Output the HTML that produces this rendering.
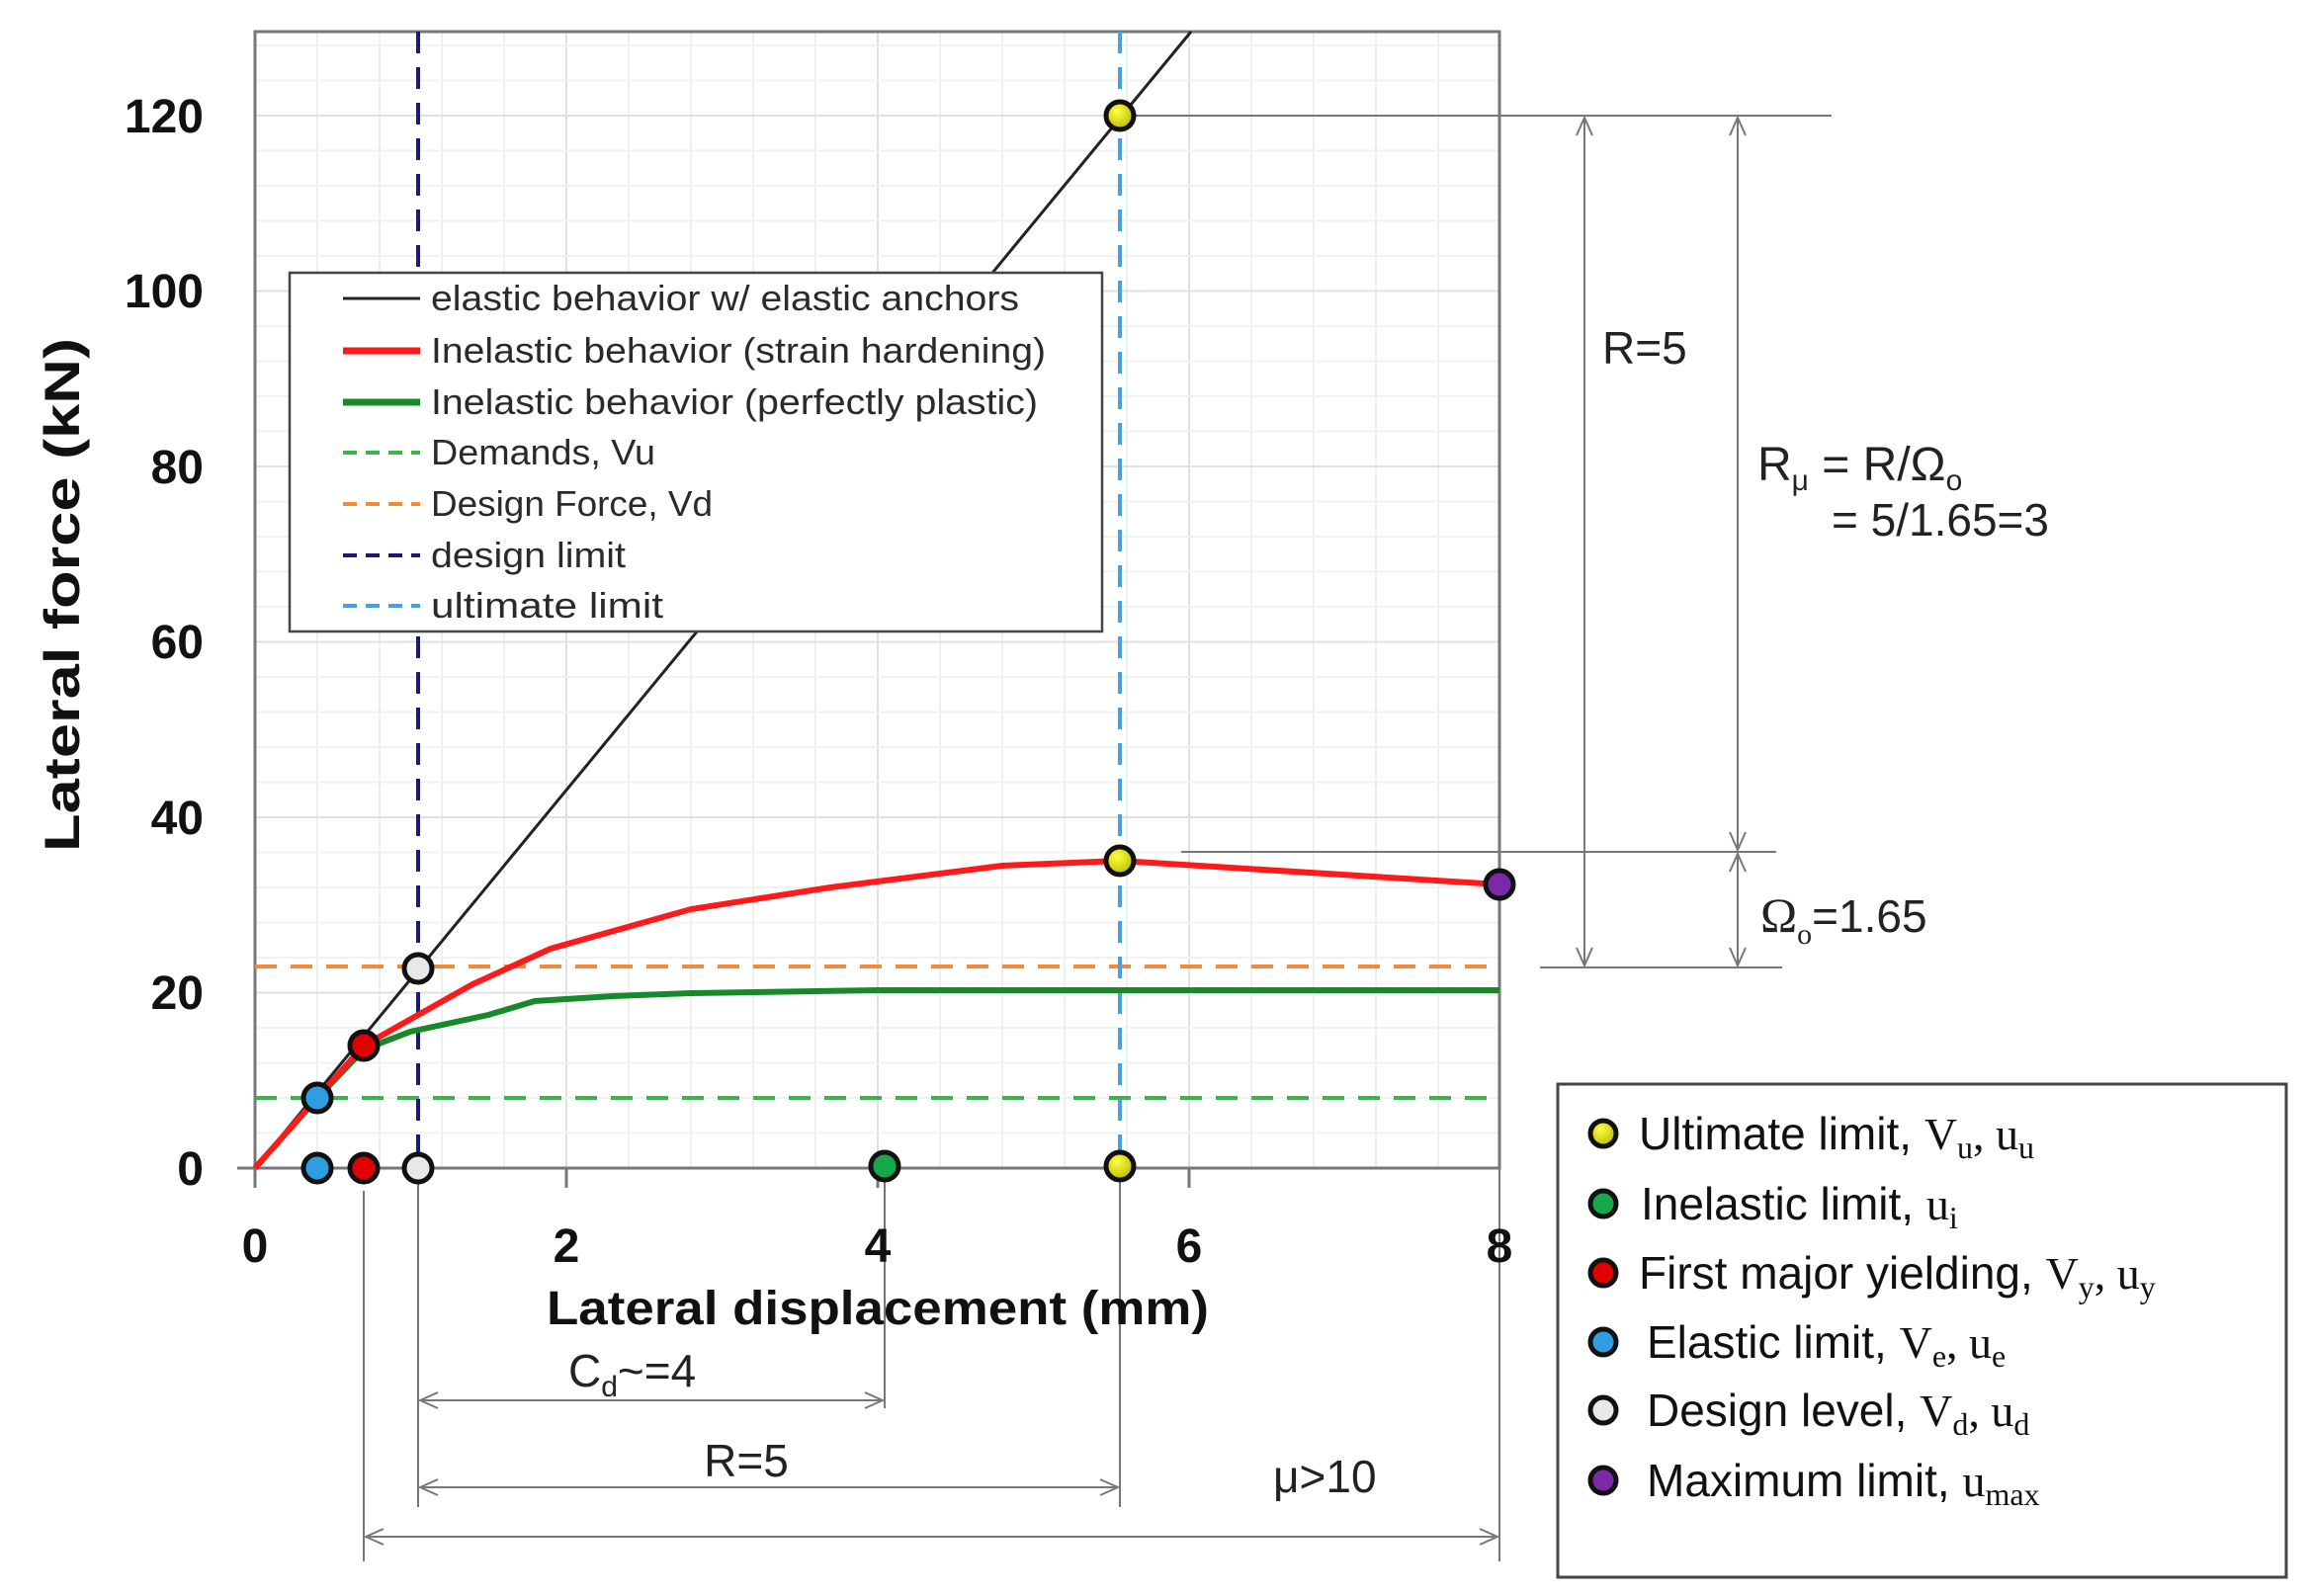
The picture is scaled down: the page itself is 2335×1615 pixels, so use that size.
<!DOCTYPE html>
<html><head><meta charset="utf-8"><style>
html,body{margin:0;padding:0;background:#fff;}
svg{display:block;}
text{font-family:"Liberation Sans",sans-serif;}
</style></head><body>
<svg width="2335" height="1615" viewBox="0 0 2335 1615" xmlns="http://www.w3.org/2000/svg">
<defs>
<marker id="ar" markerWidth="24" markerHeight="24" refX="20" refY="12" orient="auto" markerUnits="userSpaceOnUse">
<path d="M2,4 L20,12 L2,20" fill="none" stroke="#777" stroke-width="2"/></marker>
<marker id="al" markerWidth="24" markerHeight="24" refX="4" refY="12" orient="auto" markerUnits="userSpaceOnUse">
<path d="M22,4 L4,12 L22,20" fill="none" stroke="#777" stroke-width="2"/></marker>
<radialGradient id="gy" cx="40%" cy="35%" r="70%"><stop offset="0" stop-color="#ffff40"/><stop offset="1" stop-color="#b8b800"/></radialGradient>
</defs>
<rect width="2335" height="1615" fill="#fff"/>
<g stroke="#efefef" stroke-width="2">
<line x1="321" y1="32" x2="321" y2="1182"/><line x1="384" y1="32" x2="384" y2="1182"/><line x1="447" y1="32" x2="447" y2="1182"/><line x1="510" y1="32" x2="510" y2="1182"/>
<line x1="636" y1="32" x2="636" y2="1182"/><line x1="699" y1="32" x2="699" y2="1182"/><line x1="762" y1="32" x2="762" y2="1182"/><line x1="825" y1="32" x2="825" y2="1182"/>
<line x1="951" y1="32" x2="951" y2="1182"/><line x1="1014" y1="32" x2="1014" y2="1182"/><line x1="1077" y1="32" x2="1077" y2="1182"/><line x1="1140" y1="32" x2="1140" y2="1182"/>
<line x1="1266" y1="32" x2="1266" y2="1182"/><line x1="1329" y1="32" x2="1329" y2="1182"/><line x1="1392" y1="32" x2="1392" y2="1182"/><line x1="1455" y1="32" x2="1455" y2="1182"/>
</g>
<g stroke="#e0e0e0" stroke-width="2">
<line x1="573" y1="32" x2="573" y2="1182"/><line x1="888" y1="32" x2="888" y2="1182"/><line x1="1203" y1="32" x2="1203" y2="1182"/>
<line x1="258" y1="1004.5" x2="1517" y2="1004.5"/><line x1="258" y1="827" x2="1517" y2="827"/><line x1="258" y1="649.5" x2="1517" y2="649.5"/><line x1="258" y1="472" x2="1517" y2="472"/><line x1="258" y1="294.5" x2="1517" y2="294.5"/><line x1="258" y1="117" x2="1517" y2="117"/>
</g>
<g stroke="#f2f2f2" stroke-width="2">
<line x1="258" y1="1146.5" x2="1517" y2="1146.5"/><line x1="258" y1="1111" x2="1517" y2="1111"/><line x1="258" y1="1075.5" x2="1517" y2="1075.5"/><line x1="258" y1="1040" x2="1517" y2="1040"/>
<line x1="258" y1="969" x2="1517" y2="969"/><line x1="258" y1="933.5" x2="1517" y2="933.5"/><line x1="258" y1="898" x2="1517" y2="898"/><line x1="258" y1="862.5" x2="1517" y2="862.5"/>
<line x1="258" y1="791.5" x2="1517" y2="791.5"/><line x1="258" y1="756" x2="1517" y2="756"/><line x1="258" y1="720.5" x2="1517" y2="720.5"/><line x1="258" y1="685" x2="1517" y2="685"/>
<line x1="258" y1="614" x2="1517" y2="614"/><line x1="258" y1="578.5" x2="1517" y2="578.5"/><line x1="258" y1="543" x2="1517" y2="543"/><line x1="258" y1="507.5" x2="1517" y2="507.5"/>
<line x1="258" y1="436.5" x2="1517" y2="436.5"/><line x1="258" y1="401" x2="1517" y2="401"/><line x1="258" y1="365.5" x2="1517" y2="365.5"/><line x1="258" y1="330" x2="1517" y2="330"/>
<line x1="258" y1="259" x2="1517" y2="259"/><line x1="258" y1="223.5" x2="1517" y2="223.5"/><line x1="258" y1="188" x2="1517" y2="188"/><line x1="258" y1="152.5" x2="1517" y2="152.5"/>
<line x1="258" y1="81.5" x2="1517" y2="81.5"/><line x1="258" y1="46" x2="1517" y2="46"/>
</g>
<rect x="258" y="32" width="1259" height="1150" fill="none" stroke="#777" stroke-width="3"/>
<g stroke="#777" stroke-width="3">
<line x1="240" y1="1182" x2="258" y2="1182"/><line x1="258" y1="1182" x2="258" y2="1202"/><line x1="573" y1="1182" x2="573" y2="1202"/><line x1="888" y1="1182" x2="888" y2="1202"/><line x1="1203" y1="1182" x2="1203" y2="1202"/>
</g>
<line x1="258" y1="1111" x2="1517" y2="1111" stroke="#3cb44b" stroke-width="4" stroke-dasharray="22,14"/>
<line x1="258" y1="978" x2="1517" y2="978" stroke="#f28a3a" stroke-width="4" stroke-dasharray="22,14"/>
<line x1="423" y1="32" x2="423" y2="1182" stroke="#1a1a6e" stroke-width="4" stroke-dasharray="22,14"/>
<line x1="1133" y1="32" x2="1133" y2="1182" stroke="#4aa0dc" stroke-width="4" stroke-dasharray="22,14"/>
<line x1="258" y1="1182" x2="1205" y2="32" stroke="#222" stroke-width="3"/>
<polyline fill="none" stroke="#168a2a" stroke-width="6" points="258,1182 321,1111 368,1062 415,1044 494,1027 541,1013 620,1008 699,1005 888,1002 1517,1002"/>
<polyline fill="none" stroke="#ff1a1a" stroke-width="6" points="258,1182 321,1111 368,1058 423,1027 478,996 557,960 699,920 840,898 1014,876 1133,871 1517,895"/>
<g stroke="#777" stroke-width="2" fill="none">
<line x1="1140" y1="117" x2="1853" y2="117"/>
<line x1="1195" y1="862" x2="1797" y2="862"/>
<line x1="1558" y1="979" x2="1803" y2="979"/>
<line x1="1603" y1="119" x2="1603" y2="977" marker-start="url(#al)" marker-end="url(#ar)"/>
<line x1="1758" y1="119" x2="1758" y2="860" marker-start="url(#al)" marker-end="url(#ar)"/>
<line x1="1758" y1="864" x2="1758" y2="977" marker-start="url(#al)" marker-end="url(#ar)"/>
<line x1="368" y1="1205" x2="368" y2="1580"/>
<line x1="423" y1="1182" x2="423" y2="1525"/>
<line x1="895" y1="1182" x2="895" y2="1425"/>
<line x1="1133" y1="1182" x2="1133" y2="1525"/>
<line x1="1517" y1="1182" x2="1517" y2="1580"/>
<line x1="425" y1="1417" x2="893" y2="1417" marker-start="url(#al)" marker-end="url(#ar)"/>
<line x1="425" y1="1505" x2="1131" y2="1505" marker-start="url(#al)" marker-end="url(#ar)"/>
<line x1="370" y1="1555" x2="1515" y2="1555" marker-start="url(#al)" marker-end="url(#ar)"/>
</g>
<g stroke="#111" stroke-width="5">
<circle cx="321" cy="1111" r="14" fill="#2e9ee0"/>
<circle cx="368" cy="1058" r="14" fill="#e00000"/>
<circle cx="423" cy="980" r="14" fill="#e8e8e8"/>
<circle cx="1133" cy="117" r="14" fill="url(#gy)"/>
<circle cx="1133" cy="871" r="14" fill="url(#gy)"/>
<circle cx="1517" cy="895" r="14" fill="#7a2aa8"/>
<circle cx="321" cy="1182" r="14" fill="#2e9ee0"/>
<circle cx="368" cy="1182" r="14" fill="#e00000"/>
<circle cx="423" cy="1182" r="14" fill="#e8e8e8"/>
<circle cx="895" cy="1180" r="14" fill="#16a84a"/>
<circle cx="1133" cy="1180" r="14" fill="url(#gy)"/>
</g>
<rect x="293" y="276" width="822" height="363" fill="#fff" stroke="#444" stroke-width="2.5"/>
<g stroke-width="4">
<line x1="347" y1="302" x2="425" y2="302" stroke="#222" stroke-width="3"/>
<line x1="347" y1="355" x2="425" y2="355" stroke="#ff1a1a" stroke-width="7"/>
<line x1="347" y1="407" x2="425" y2="407" stroke="#168a2a" stroke-width="7"/>
<line x1="347" y1="458" x2="425" y2="458" stroke="#3cb44b" stroke-dasharray="14,9"/>
<line x1="347" y1="510" x2="425" y2="510" stroke="#f28a3a" stroke-dasharray="14,9"/>
<line x1="347" y1="562" x2="425" y2="562" stroke="#1a1a6e" stroke-dasharray="14,9"/>
<line x1="347" y1="613" x2="425" y2="613" stroke="#4aa0dc" stroke-dasharray="14,9"/>
</g>
<g font-size="36" fill="#2a2a2a">
<text x="436" y="314" textLength="595" lengthAdjust="spacingAndGlyphs">elastic behavior w/ elastic anchors</text>
<text x="436" y="367" textLength="622" lengthAdjust="spacingAndGlyphs">Inelastic behavior (strain hardening)</text>
<text x="436" y="419" textLength="614" lengthAdjust="spacingAndGlyphs">Inelastic behavior (perfectly plastic)</text>
<text x="436" y="470" textLength="227" lengthAdjust="spacingAndGlyphs">Demands, Vu</text>
<text x="436" y="522" textLength="285" lengthAdjust="spacingAndGlyphs">Design Force, Vd</text>
<text x="436" y="574" textLength="197" lengthAdjust="spacingAndGlyphs">design limit</text>
<text x="436" y="625" textLength="235" lengthAdjust="spacingAndGlyphs">ultimate limit</text>
</g>
<g font-size="48" font-weight="bold" fill="#111" text-anchor="end">
<text x="206" y="1199">0</text><text x="206" y="1021">20</text><text x="206" y="844">40</text><text x="206" y="666">60</text><text x="206" y="489">80</text><text x="206" y="311">100</text><text x="206" y="134">120</text>
</g>
<g font-size="48" font-weight="bold" fill="#111" text-anchor="middle">
<text x="258" y="1277">0</text><text x="573" y="1277">2</text><text x="888" y="1277">4</text><text x="1203" y="1277">6</text><text x="1517" y="1277">8</text>
<text x="888" y="1340" textLength="670" lengthAdjust="spacingAndGlyphs">Lateral displacement (mm)</text>
<text transform="translate(80,602) rotate(-90)" font-size="50" textLength="520" lengthAdjust="spacingAndGlyphs">Lateral force (kN)</text>
</g>
<g font-size="46" fill="#222">
<text x="1621" y="368">R=5</text>
<text x="1778" y="486" font-family="Liberation Serif,serif" font-size="48">R<tspan font-size="30" dy="10">μ</tspan><tspan dy="-10"> = R/Ω</tspan><tspan font-size="30" dy="10">o</tspan></text>
<text x="1853" y="542">= 5/1.65=3</text>
<text x="1781" y="943"><tspan font-family="Liberation Serif,serif" font-size="50">Ω</tspan><tspan font-size="30" dy="12" font-family="Liberation Serif,serif">o</tspan><tspan dy="-12">=1.65</tspan></text>
<text x="575" y="1403" font-family="Liberation Serif,serif">C<tspan font-size="30" dy="10">d</tspan><tspan dy="-10" font-family="Liberation Sans,sans-serif">~=4</tspan></text>
<text x="755" y="1494" text-anchor="middle">R=5</text>
<text x="1288" y="1510">μ&gt;10</text>
</g>
<rect x="1576" y="1097" width="737" height="499" fill="#fff" stroke="#444" stroke-width="3"/>
<g stroke="#111" stroke-width="5">
<circle cx="1622" cy="1147" r="13" fill="url(#gy)"/>
<circle cx="1622" cy="1218" r="13" fill="#16a84a"/>
<circle cx="1622" cy="1288" r="13" fill="#e00000"/>
<circle cx="1622" cy="1358" r="13" fill="#2e9ee0"/>
<circle cx="1622" cy="1427" r="13" fill="#e8e8e8"/>
<circle cx="1622" cy="1498" r="13" fill="#7a2aa8"/>
</g>
<g font-size="46" fill="#111">
<text x="1658" y="1163">Ultimate limit, <tspan font-family="Liberation Serif,serif">V<tspan font-size="32" dy="9">u</tspan><tspan dy="-9">, u</tspan><tspan font-size="32" dy="9">u</tspan></tspan></text>
<text x="1660" y="1234">Inelastic limit, <tspan font-family="Liberation Serif,serif">u<tspan font-size="32" dy="9">i</tspan></tspan></text>
<text x="1658" y="1304">First major yielding, <tspan font-family="Liberation Serif,serif">V<tspan font-size="32" dy="9">y</tspan><tspan dy="-9">, u</tspan><tspan font-size="32" dy="9">y</tspan></tspan></text>
<text x="1666" y="1374">Elastic limit, <tspan font-family="Liberation Serif,serif">V<tspan font-size="32" dy="9">e</tspan><tspan dy="-9">, u</tspan><tspan font-size="32" dy="9">e</tspan></tspan></text>
<text x="1666" y="1443">Design level, <tspan font-family="Liberation Serif,serif">V<tspan font-size="32" dy="9">d</tspan><tspan dy="-9">, u</tspan><tspan font-size="32" dy="9">d</tspan></tspan></text>
<text x="1666" y="1514">Maximum limit, <tspan font-family="Liberation Serif,serif">u<tspan font-size="32" dy="9">max</tspan></tspan></text>
</g>
</svg>
</body></html>
